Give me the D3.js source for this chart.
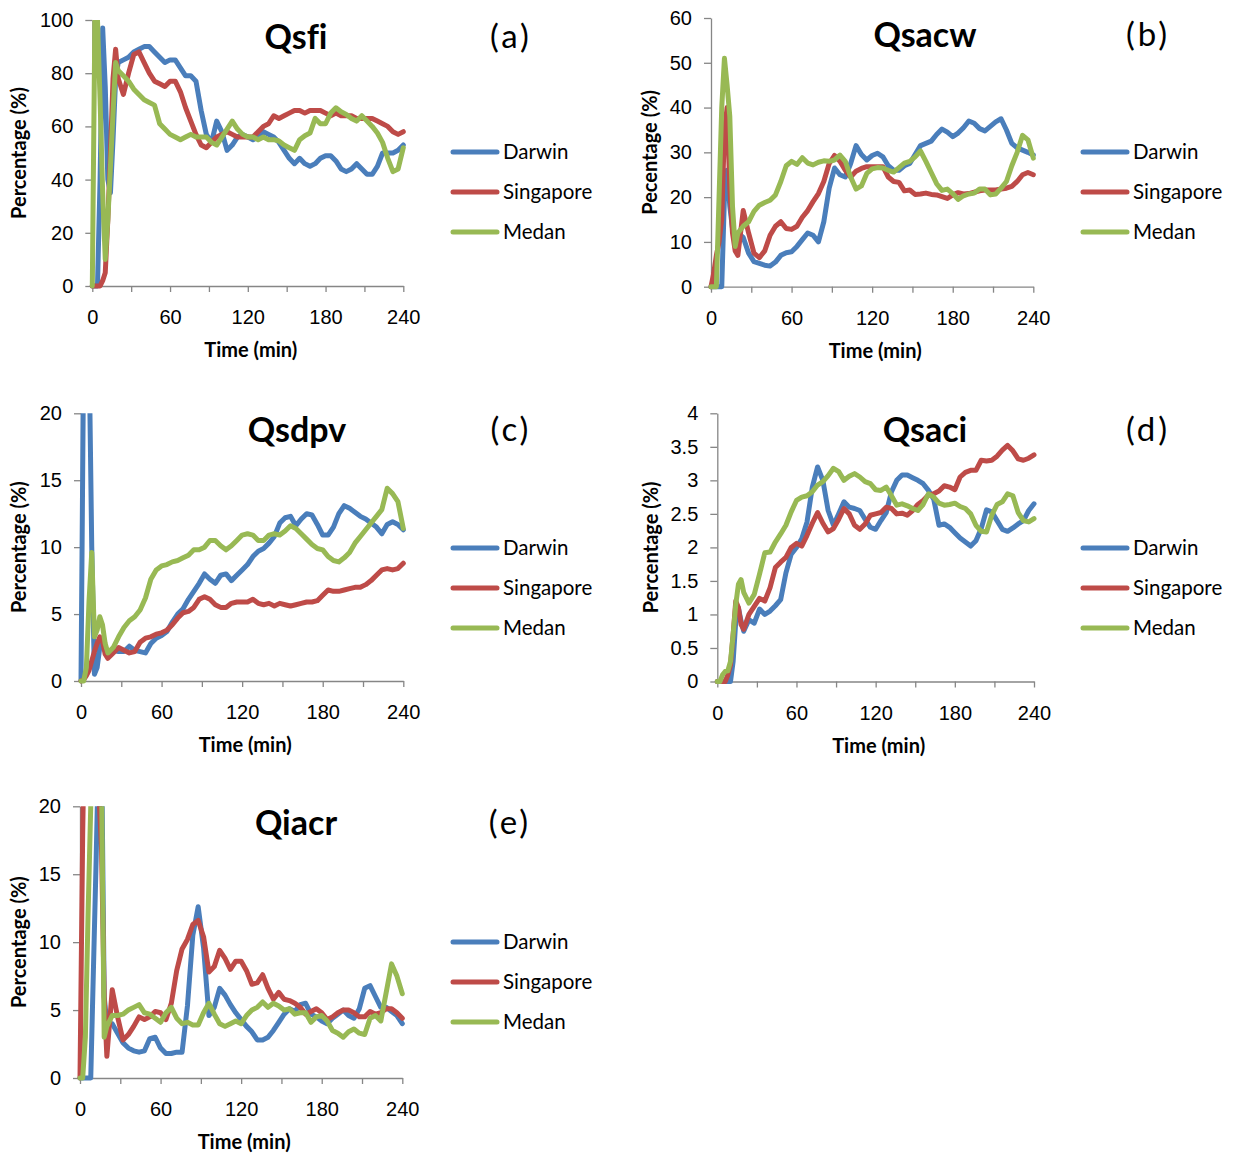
<!DOCTYPE html>
<html>
<head>
<meta charset="utf-8">
<script src="https://cdn.jsdelivr.net/npm/d3@7"></script>
<style>
  body { margin: 0; background: #fff; }
  svg { display: block; font-family: Lato, "Open Sans", sans-serif; font-variant-ligatures: none; }
  .axis path, .axis line { stroke: #868686; stroke-width: 1.3; }
  .axis text { fill: #000; font-size: 20px; }
</style>
</head>
<body>
<svg id="chart" width="1235" height="1157"></svg>
<script>
// Time axis (min): 2-min steps early on, 4-min steps after
const times = [0,2,4,6,8,10,12,14,16,18,20,
  24,28,32,36,40,44,48,52,56,60,
  64,68,72,76,80,84,88,92,96,100,
  104,108,112,116,120,124,128,132,136,140,
  144,148,152,156,160,164,168,172,176,180,
  184,188,192,196,200,204,208,212,216,220,
  224,228,232,236,240];

const seriesNames = ['Darwin', 'Singapore', 'Medan'];
const seriesColors = ['#4A7EBB', '#BE4B48', '#98B954'];
const xTickValues = [0, 30, 60, 90, 120, 150, 180, 210, 240];

// (a) Qsfi
const qsfiDarwin = [0,0,0,40,97,75,40,35,55,78,84,
  85,86,88,89,90,90,88,86,84,85,
  85,82,79,79,77,66,57,54,62,58,
  51,53,56,57,56,55,56,58,57,56,
  54,51,48,46,48,46,45,46,48,49,
  49,47,44,43,44,46,44,42,42,45,
  50,50,50,51,53];
const qsfiSingapore = [0,0,0,0,2,5,25,50,78,89,78,
  72,80,87,88,84,80,77,76,75,77,
  77,73,67,62,57,53,52,54,56,57,
  58,57,56,56,56,56,58,60,61,64,
  63,64,65,66,66,65,66,66,66,65,
  64,65,64,64,64,63,63,63,63,62,
  61,60,58,57,58];
const qsfiMedan = [0,100,100,70,35,10,25,45,65,84,81,
  79,77,74,72,70,69,68,61,59,57,
  56,55,56,57,56,56,56,54,53,56,
  59,62,59,57,56,56,55,56,55,55,
  54.5,53,52,51,55,56.5,57.5,63,61,61,
  65,67,65.5,64.5,63,62,64,62,60,57.5,
  54,48,43,44,52];

// (b) Qsacw
const qsacwDarwin = [0,0,0,0,0,20,26,18,13,10,12,
  11,7.5,5.6,5.2,4.8,4.6,5.5,7,7.6,7.8,
  9,10.5,12,11.5,10,14.5,22,26.5,25,24.5,
  27.5,31.5,29.5,28.3,29.3,29.8,29,27,26,26,
  27,27.5,29.5,31.5,32,32.5,34,35.2,34.5,33.5,
  34.3,35.5,37,36.5,35.3,34.8,35.8,36.8,37.5,35,
  32,31,30.5,30,29.4];
const qsacwSingapore = [0,3,7,10,15,35,40,22,12,8,7,
  17,12,7.5,6.5,8,11.5,13.5,14.5,13,12.8,
  13.5,15.5,17,19,20.8,23.5,27.5,29.3,28,26,
  24.5,25.8,26.4,26.8,26.8,26.8,26.8,24.5,23.5,23.3,
  21.4,21.6,20.6,20.7,20.9,20.6,20.5,20.1,19.7,20.5,
  21,20.7,20.8,21.1,21.4,21.6,21.6,21.6,21.8,22,
  22.4,23.5,25,25.5,25];
const qsacwMedan = [0,0,0,20,40,51,45,38,18,9,12,
  13.5,14.5,16.8,18.2,18.8,19.3,20.5,23.5,27,28,
  27.3,28.8,27.6,27.2,27.8,28.1,28,28.3,29.4,28,
  24.5,21.8,22.5,25.3,26.3,26.6,26.5,26,25.6,26.6,
  27.6,28,29,30.3,28,25.5,23,21.5,21.8,20.8,
  19.5,20.3,20.7,20.9,21.8,21.8,20.5,20.7,22,23.5,
  27,30,33.8,32.8,28.7];

// (c) Qsdpv
const qsdpvDarwin = [0,25,25,25,10,0.5,1,2.5,3,2.5,2.2,
  2.3,2.2,2.2,2.6,2.3,2.2,2.1,2.8,3.2,3.4,
  3.7,4.4,5,5.4,6.1,6.7,7.3,8,7.6,7.3,
  7.9,8,7.5,7.9,8.3,8.7,9.3,9.7,9.9,10.3,
  10.8,11.8,12.2,12.3,11.6,12.1,12.5,12.4,11.7,10.9,
  10.9,11.5,12.5,13.1,12.9,12.6,12.3,12.1,11.8,11.5,
  11,11.7,11.9,11.7,11.3];
const qsdpvSingapore = [0,0.1,0.4,0.8,1.5,2.2,2.8,3.3,3,2,1.7,
  2.1,2.5,2.3,2.1,2.2,2.9,3.2,3.3,3.5,3.6,
  3.8,4.2,4.7,5.1,5.2,5.5,6.1,6.3,6.1,5.7,
  5.5,5.5,5.8,5.9,5.9,5.9,6.1,5.8,5.7,5.8,
  5.6,5.8,5.7,5.6,5.7,5.8,5.9,5.9,6,6.4,
  6.8,6.7,6.7,6.8,6.9,7,7,7.2,7.5,7.9,
  8.3,8.4,8.3,8.4,8.8];
const qsdpvMedan = [0,0,1,6,9.6,3.3,3.8,4.8,4.2,2.8,2.1,
  2.5,3.3,4,4.5,4.8,5.3,6.2,7.6,8.3,8.6,
  8.7,8.9,9,9.2,9.4,9.8,9.8,10,10.5,10.5,
  10.1,9.8,10.1,10.5,10.9,11,10.9,10.5,10.5,10.9,
  11,10.9,11.2,11.6,11.4,11,10.6,10.2,9.9,9.8,
  9.3,9,8.9,9.2,9.6,10.3,10.8,11.3,11.8,12.3,
  12.8,14.4,14,13.4,11.4];

// (d) Qsaci
const qsaciDarwin = [0,0,0,0,0,0,0.3,0.9,1.1,0.9,0.75,
  0.92,0.87,1.08,1,1.05,1.13,1.22,1.62,1.9,2,
  2.13,2.38,2.9,3.2,3,2.55,2.33,2.5,2.68,2.6,
  2.58,2.55,2.42,2.3,2.27,2.4,2.52,2.83,3,3.08,
  3.08,3.04,3,2.95,2.85,2.72,2.33,2.35,2.3,2.22,
  2.14,2.08,2.02,2.1,2.28,2.56,2.53,2.4,2.27,2.24,
  2.29,2.35,2.4,2.55,2.65];
const qsaciSingapore = [0,0,0,0,0.1,0.25,0.7,1.2,1.1,0.85,0.78,
  1,1.12,1.24,1.2,1.4,1.7,1.78,1.85,2,2.06,
  2.02,2.18,2.36,2.52,2.36,2.23,2.28,2.42,2.58,2.5,
  2.33,2.27,2.35,2.48,2.5,2.52,2.6,2.58,2.5,2.51,
  2.48,2.55,2.64,2.7,2.78,2.8,2.84,2.92,2.9,2.86,
  3.05,3.12,3.15,3.15,3.3,3.29,3.3,3.36,3.45,3.52,
  3.44,3.32,3.3,3.33,3.38];
const qsaciMedan = [0,0,0.1,0.15,0.16,0.3,0.7,1.15,1.45,1.52,1.33,
  1.17,1.3,1.6,1.92,1.93,2.08,2.2,2.33,2.53,2.7,
  2.75,2.77,2.83,2.93,2.98,3.07,3.18,3.13,3,3.06,
  3.1,3.05,2.98,2.95,2.86,2.85,2.9,2.77,2.63,2.65,
  2.62,2.58,2.55,2.64,2.8,2.75,2.66,2.63,2.64,2.66,
  2.61,2.58,2.5,2.33,2.24,2.23,2.48,2.64,2.68,2.8,
  2.77,2.52,2.4,2.38,2.43];

// (e) Qiacr
const qiacrDarwin = [0,0,0,0,0,8,16,25,25,6,4,
  4,3.3,2.6,2.2,2,1.9,2,2.9,3,2.2,
  1.8,1.8,1.9,1.9,5.3,10.5,12.6,9.6,4.6,5.2,
  6.6,6.1,5.4,4.8,4.3,3.8,3.4,2.8,2.8,3,
  3.5,4.1,4.7,5.1,4.9,5.4,5.5,4.7,4.5,4.2,
  4,4.4,4.7,5,4.6,4.4,5.1,6.6,6.8,6,
  5.2,5.2,4.9,4.6,4];
const qiacrSingapore = [0,18,30,30,30,30,30,21,17,6,1.6,
  6.5,4.5,2.8,3.2,3.8,4.5,4.3,4.5,4.9,4.8,
  4.3,5.5,7.9,9.5,10.2,11.3,11.6,10.4,7.8,8.2,
  9.4,8.8,8,8.6,8.6,7.9,6.9,7,7.6,6.6,
  5.8,6.3,5.8,5.7,5.5,5.2,4.7,4.9,5.1,4.8,
  4.3,4.5,4.8,5,5,4.8,4.5,4.5,4.9,4.7,
  4.8,5.1,5.1,4.8,4.4];
const qiacrMedan = [0,0,3,12,20,30,30,30,22,3,3.8,
  4.6,4.6,4.7,5,5.2,5.4,4.8,4.7,4.4,4.1,
  4.8,5.2,4.4,4,4.1,3.9,3.9,4.8,5.5,4.7,
  4,3.8,4,4.2,4,4.6,5,5.2,5.6,5.2,
  5.5,5.3,5,5.1,4.7,4.8,4.8,4.1,4.5,4.6,
  4.2,3.5,3.3,3,3.4,3.6,3.3,3.2,4.4,4.6,
  4.2,6.3,8.4,7.5,6.2];

// layout of the five panels
const panels = [
  { title: 'Qsfi', tag: '(a)', yLabel: 'Percentage (%)', yMax: 100, yStep: 20,
    series: [qsfiDarwin, qsfiSingapore, qsfiMedan],
    left: 92.3, right: 403.3, top: 20, bottom: 286,
    titleX: 296, tagX: 511, legendX: 453, legendY: 152, yTitleX: 26 },
  { title: 'Qsacw', tag: '(b)', yLabel: 'Pecentage (%)', yMax: 60, yStep: 10,
    series: [qsacwDarwin, qsacwSingapore, qsacwMedan],
    left: 711, right: 1033.3, top: 18, bottom: 286.7,
    titleX: 925, tagX: 1148, legendX: 1083, legendY: 152, yTitleX: 657 },
  { title: 'Qsdpv', tag: '(c)', yLabel: 'Percentage (%)', yMax: 20, yStep: 5,
    series: [qsdpvDarwin, qsdpvSingapore, qsdpvMedan],
    left: 81, right: 403.3, top: 413.3, bottom: 681,
    titleX: 297, tagX: 511, legendX: 453, legendY: 548, yTitleX: 26 },
  { title: 'Qsaci', tag: '(d)', yLabel: 'Percentage (%)', yMax: 4, yStep: 0.5,
    series: [qsaciDarwin, qsaciSingapore, qsaciMedan],
    left: 717.3, right: 1034, top: 413.3, bottom: 681.5,
    titleX: 925, tagX: 1148, legendX: 1083, legendY: 548, yTitleX: 658 },
  { title: 'Qiacr', tag: '(e)', yLabel: 'Percentage (%)', yMax: 20, yStep: 5,
    series: [qiacrDarwin, qiacrSingapore, qiacrMedan],
    left: 80, right: 402.3, top: 806.3, bottom: 1078,
    titleX: 296, tagX: 510, legendX: 453, legendY: 942, yTitleX: 26 }
];

const svg = d3.select('#chart');
svg.append('rect').attr('width', 1235).attr('height', 1157).attr('fill', '#fff');

panels.forEach((p, i) => {
  const x = d3.scaleLinear().domain([0, 240]).range([p.left, p.right]);
  const y = d3.scaleLinear().domain([0, p.yMax]).range([p.bottom, p.top]);
  const g = svg.append('g');

  // y axis
  const yTicks = d3.range(0, p.yMax + p.yStep / 2, p.yStep);
  g.append('g')
    .attr('class', 'axis')
    .attr('transform', `translate(${p.left},0)`)
    .call(d3.axisLeft(y).tickValues(yTicks).tickSize(7).tickSizeOuter(0)
      .tickPadding(12).tickFormat(d => String(+d.toFixed(2))));

  // x axis: ticks every 30 min, labels every 60
  g.append('g')
    .attr('class', 'axis')
    .attr('transform', `translate(0,${p.bottom})`)
    .call(d3.axisBottom(x).tickValues(xTickValues).tickSize(6).tickSizeOuter(0)
      .tickPadding(18).tickFormat(d => d % 60 === 0 ? d : ''));

  // clip lines to the plot area (Excel cuts them at the top)
  const clipId = 'clip' + i;
  svg.append('clipPath').attr('id', clipId)
    .append('rect')
    .attr('x', p.left - 4).attr('y', p.top)
    .attr('width', p.right - p.left + 8).attr('height', p.bottom - p.top + 5);

  const line = d3.line()
    .x((d, j) => x(times[j]))
    .y(d => y(d));

  const lines = g.append('g').attr('clip-path', `url(#${clipId})`);
  p.series.forEach((vals, k) => {
    lines.append('path')
      .datum(vals)
      .attr('d', line)
      .attr('fill', 'none')
      .attr('stroke', seriesColors[k])
      .attr('stroke-width', 5)
      .attr('stroke-linejoin', 'round')
      .attr('stroke-linecap', 'round');
  });

  // titles
  g.append('text')
    .attr('x', p.titleX).attr('y', p.top + 29)
    .attr('text-anchor', 'middle')
    .attr('font-size', 34).attr('font-weight', 'bold')
    .text(p.title);
  g.append('text')
    .attr('x', p.tagX).attr('y', p.top + 28)
    .attr('text-anchor', 'middle')
    .attr('font-size', 33).attr('letter-spacing', 3)
    .text(p.tag);

  // axis titles
  g.append('text')
    .attr('transform', `translate(${p.yTitleX},${(p.top + p.bottom) / 2}) rotate(-90)`)
    .attr('text-anchor', 'middle')
    .attr('font-size', 20).attr('font-weight', 'bold')
    .text(p.yLabel);
  g.append('text')
    .attr('x', (p.left + p.right) / 2 + 3).attr('y', p.bottom + 71)
    .attr('text-anchor', 'middle')
    .attr('font-size', 20).attr('font-weight', 'bold')
    .text('Time (min)');

  // legend
  seriesNames.forEach((name, k) => {
    const ly = p.legendY + k * 40;
    g.append('line')
      .attr('x1', p.legendX).attr('x2', p.legendX + 44)
      .attr('y1', ly).attr('y2', ly)
      .attr('stroke', seriesColors[k])
      .attr('stroke-width', 5)
      .attr('stroke-linecap', 'round');
    g.append('text')
      .attr('x', p.legendX + 50).attr('y', ly)
      .attr('dy', '0.35em')
      .attr('font-size', 20.5)
      .text(name);
  });
});
</script>
</body>
</html>
